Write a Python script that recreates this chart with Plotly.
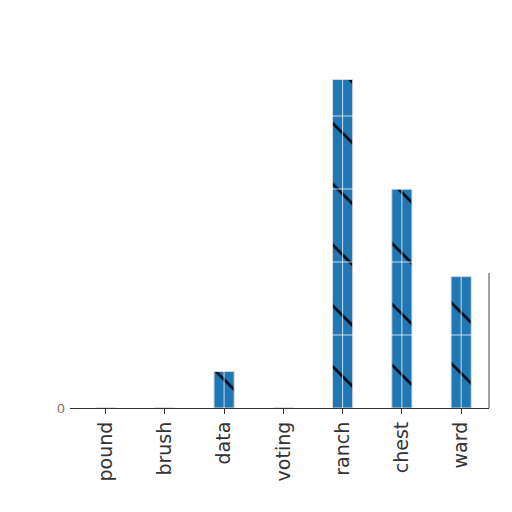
import plotly.graph_objs as go

# data
words = ['pound', 'brush', 'data', 'voting', 'ranch', 'chest', 'ward']
counts = [0, 0, 5, 0, 45, 30, 18]
grid_vals = [10, 20, 30, 40]

trace = go.Bar(
    x=words,
    y=counts,
    width=0.34,
    marker=dict(
        color='#1f77b4',
        line=dict(color='#d8d8d8', width=1),
        pattern=dict(shape='\\', fgcolor='#050d18', fgopacity=1, size=43,
                     solidity=0.065, fillmode='overlay'),
    ),
)

# white grid drawn on top of the bars, like the reference
shapes = []
for v in grid_vals:
    shapes.append(dict(type='line', xref='paper', yref='y', x0=0, x1=1, y0=v, y1=v,
                       line=dict(color='rgba(255,255,255,0.75)', width=1), layer='above'))
for w in words:
    shapes.append(dict(type='line', xref='x', yref='paper', x0=w, x1=w, y0=0, y1=1,
                       line=dict(color='rgba(255,255,255,0.75)', width=1), layer='above'))
# right spine stub
shapes.append(dict(type='line', xref='paper', yref='y', x0=1, x1=1, y0=0, y1=18.5,
                   line=dict(color='#444', width=1), layer='above'))

layout = go.Layout(
    width=504, height=504,
    margin=dict(l=62, r=23, t=35, b=104),
    paper_bgcolor='white', plot_bgcolor='white',
    showlegend=False,
    font=dict(family='DejaVu Sans', color='#333'),
    xaxis=dict(
        range=[-0.6, 6.47],
        showgrid=False,
        showline=True, linecolor='#333', linewidth=1.2,
        ticks='outside', ticklen=5, tickcolor='#333',
        tickangle=-90,
        tickfont=dict(size=19, color='#333'),
    ),
    yaxis=dict(
        range=[0, 50],
        showgrid=False, zeroline=False, showline=False,
        tickvals=[0] + grid_vals,
        ticktext=['0', '', '', '', ''],
        ticklabelstandoff=4,
        tickfont=dict(size=13, color='#777'),
    ),
    shapes=shapes,
)

fig = go.Figure(data=[trace], layout=layout)
fig.write_html('out.html')
